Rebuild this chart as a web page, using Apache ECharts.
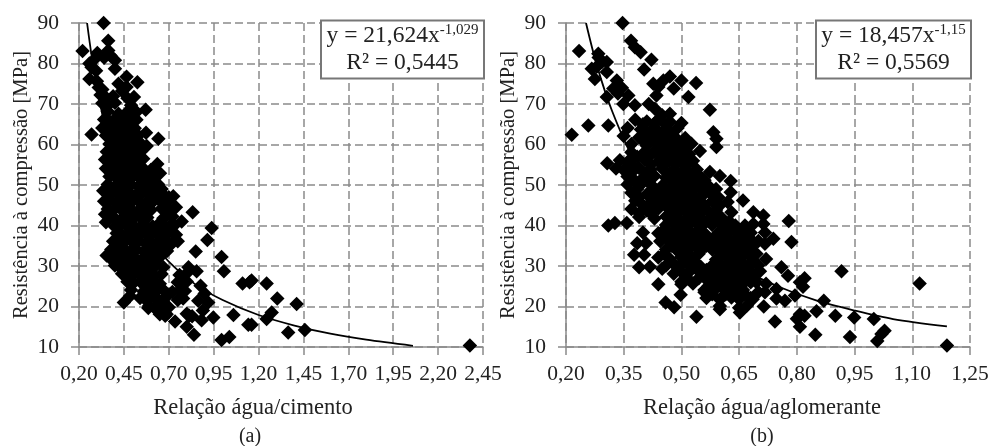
<!DOCTYPE html>
<html>
<head>
<meta charset="utf-8">
<style>html,body{margin:0;background:#fff}#main{width:994px;height:446px}</style>
<script src="https://cdn.jsdelivr.net/npm/echarts@6/dist/echarts.min.js"></script>
</head>
<body>
<div id="main"></div>
<script>
// valores
var ticksY = [10, 20, 30, 40, 50, 60, 70, 80, 90];
var ticksA = [0.20, 0.45, 0.70, 0.95, 1.20, 1.45, 1.70, 1.95, 2.20, 2.45];
var ticksB = [0.20, 0.35, 0.50, 0.65, 0.80, 0.95, 1.10, 1.25];

// (a) relação água/cimento x resistência
var pontosA = [
[.337,90],[.363,85.6],[.363,83.2],[.22,83.1],[.302,82.6],[.40,80.8],[.40,78.7],[.258,80],[.27,79.1],[.258,76.2],[.295,78.2],[.30,75.6],[.285,81],[.34,81.4],[.375,82],
[.465,76.7],[.525,75.4],[.42,75],[.465,74.2],[.506,71.7],[.571,68.6],[.52,68],[.27,62.5],[.573,62.9],[.642,61.4],[.577,59.6],[.558,56.5],[.636,55.2],[.651,52.9],[.725,47.2],
[.31,74.1],[.33,73.6],[.44,73.2],[.32,72.2],[.35,71.6],[.39,71.9],[.47,71.4],[.33,70.2],[.36,69.6],[.40,70.3],[.49,69.7],[.36,68.2],[.42,67.6],[.47,68.1],[.50,67.4],
[.34,66.2],[.37,65.7],[.40,66.3],[.43,65.8],[.46,66.4],[.49,65.6],[.52,66.1],[.33,64.1],[.36,63.7],[.39,64.3],[.42,63.8],[.45,64.2],[.48,63.6],[.51,64],
[.35,62.2],[.38,61.6],[.41,62.3],[.44,61.8],[.47,62.1],[.50,61.7],[.53,62.2],[.37,60.1],[.40,59.7],[.43,60.2],[.46,59.8],[.49,60.3],[.52,59.6],[.55,60],
[.355,58.2],[.39,57.7],[.42,58.1],[.45,57.8],[.48,58.3],[.51,57.6],[.54,58],[.345,56.3],[.37,55.8],[.40,56.1],[.44,55.7],[.47,56.2],[.50,55.9],[.53,55.6],
[.35,54.1],[.385,53.7],[.42,54.2],[.46,53.8],[.49,54.1],[.52,53.6],[.56,54],[.60,53.7],[.37,52.1],[.41,51.7],[.44,52.2],[.47,51.8],[.50,52.1],[.54,51.6],[.58,52],[.62,51.8],
[.36,50.1],[.40,49.7],[.43,50.2],[.46,49.8],[.49,50.1],[.53,49.6],[.57,50],[.60,49.8],[.64,50.2],[.35,48.2],[.38,47.7],[.42,48.1],[.45,47.8],[.48,48.2],[.52,47.6],[.55,48],[.59,47.8],[.63,48.1],[.67,47.6],
[.37,46.1],[.41,45.7],[.44,46.2],[.47,45.8],[.50,46.1],[.54,45.6],[.58,46],[.61,45.8],[.65,46.2],[.69,45.7],[.36,44.1],[.39,43.7],[.43,44.2],[.46,43.8],[.49,44.1],[.53,43.6],[.56,44],[.60,43.8],[.66,44.2],[.70,43.7],
[.375,42.1],[.40,41.7],[.45,42.2],[.48,41.8],[.51,42.1],[.55,41.6],[.58,42],[.67,41.8],[.72,42.2],[.35,40.8],[.40,39.7],[.43,40.2],[.47,39.8],[.50,40.1],[.54,39.6],[.57,40],[.61,39.8],[.64,40.2],[.68,39.7],[.71,40.1],
[.41,38.1],[.44,37.7],[.48,38.2],[.52,37.8],[.55,38.1],[.59,37.6],[.63,38],[.66,37.8],[.70,38.2],[.74,37.7],[.39,36.1],[.43,35.7],[.46,36.2],[.50,35.8],[.53,36.1],[.57,35.6],[.60,36],[.64,35.8],[.68,36.2],[.72,35.7],[.75,36.1],
[.38,34.1],[.41,33.7],[.45,34.2],[.49,33.8],[.52,34.1],[.56,33.6],[.59,34],[.62,33.8],[.66,34.2],[.69,33.7],[.37,32.1],[.40,31.7],[.44,32.2],[.47,31.8],[.51,32.1],[.55,31.6],[.58,32],[.61,31.8],[.65,32.2],[.354,32.6],[.428,29.7],
[.40,30.1],[.46,29.8],[.50,30.1],[.53,29.6],[.57,30],[.60,29.8],[.63,30.2],[.67,29.7],[.44,28.1],[.48,27.7],[.51,28.2],[.55,27.8],[.58,28.1],[.62,27.6],[.66,28],[.76,27.8],[.80,28.2],
[.47,26.1],[.50,25.7],[.54,26.2],[.57,25.8],[.61,26.1],[.65,25.6],[.75,26],[.78,25.8],[.80,26.2],[.49,24.1],[.56,23.7],[.59,24.2],[.63,23.8],[.67,24.1],[.72,23.6],[.76,24],[.79,23.8],
[.54,22.1],[.57,21.7],[.60,22.2],[.64,21.8],[.68,22.1],[.75,21.6],[.78,22],[.59,20.1],[.62,19.7],[.66,20.2],[.70,19.8],[.65,18.1],[.68,17.7],[.80,18.2],[.83,17.6],
[.335,48.6],[.34,46],[.345,42.8],[.62,53.5],[.66,49],[.70,47],[.74,44.5],[.73,40],
[.833,43.3],[.772,41],[.939,39.4],[.915,36.4],[.85,33.6],[.994,32.2],[1.007,28.7],[1.111,25.7],[1.15,26],[.81,29.7],[.855,28.7],[.877,25.1],[.45,21],[.484,22.6],[.586,19.6],[.688,18.1],[.735,16.3],[.80,15],[.84,13],[.814,17.7],[.864,21.4],[.92,21],[.948,17.3],[.883,16.6],[1.06,17.9],[.994,11.7],[1.037,12.5],[1.143,15.5],[.90,23.2],[.89,19],
[1.161,26.4],[1.245,25.7],[1.304,22],[1.412,20.6],[1.273,18.5],[1.245,16.9],[1.161,15.5],[1.365,13.6],[1.458,14.2],[2.377,10.4]
];

// (b) relação água/aglomerante x resistência
var pontosB = [
[.347,90],[.369,85.6],[.379,84],[.394,82.8],[.422,80.9],[.403,78.5],[.234,83.1],[.284,82.4],[.293,80.4],[.306,80.4],[.267,78.7],[.306,77.9],[.275,76.2],[.285,81.5],[.28,79.2],[.332,75.8],[.47,76.8],[.5,75.8],[.538,75.2],[.427,75],[.453,75.8],[.48,73.8],[.435,72.1],[.518,71.7],[.306,71.7],[.323,73.8],[.362,72.1],[.349,70],[.379,69.7],[.574,68.6],[.431,68.8],[.47,67.6],[.5,65.3],[.258,64.7],[.31,64.7],[.215,62.4],[.583,63],[.591,61.4],[.591,59.4],[.548,58.4],[.526,60.2],[.307,55.4],[.574,53.2],[.6,52.2],[.628,51],[.628,48.2],[.596,47],[.335,72.6],[.345,74],[.45,67.2],[.44,74.2],[.415,70],
[.38,66.1],[.41,65.7],[.44,66.2],[.47,65.6],[.36,64.1],[.395,63.7],[.43,64.2],[.46,63.8],[.49,64.1],[.35,62.1],[.39,61.7],[.42,62.2],[.45,61.8],[.48,62.1],[.51,61.6],[.37,60.1],[.41,59.7],[.44,60.2],[.47,59.8],[.50,60.1],[.37,58.1],[.40,57.7],[.43,58.2],[.46,57.8],[.49,58.1],[.52,57.6],
[.34,56.1],[.36,55.7],[.405,56.2],[.44,55.8],[.47,56.1],[.50,55.6],[.53,56],[.33,54.1],[.35,53.7],[.39,54.2],[.42,53.8],[.45,54.1],[.48,53.6],[.51,54],[.54,53.8],[.36,52.1],[.40,51.7],[.43,52.2],[.46,51.8],[.49,52.1],[.52,51.6],[.55,52],[.36,50.1],[.39,49.7],[.42,50.2],[.45,49.8],[.48,50.1],[.51,49.6],[.54,50],[.57,49.8],
[.37,48.1],[.41,47.7],[.44,48.2],[.47,47.8],[.50,48.1],[.53,47.6],[.56,48],[.38,46.1],[.42,45.7],[.45,46.2],[.48,45.8],[.51,46.1],[.54,45.6],[.58,46],[.62,45.8],[.66,46.2],[.37,44.1],[.41,43.7],[.44,44.2],[.47,43.8],[.50,44.1],[.53,43.6],[.56,44],[.59,43.8],[.39,42.1],[.43,41.7],[.46,42.2],[.49,41.8],[.52,42.1],[.55,41.6],[.58,42],
[.46,40.1],[.49,39.7],[.52,40.2],[.55,39.8],[.58,40.1],[.61,39.6],[.64,40],[.44,38.1],[.47,37.7],[.50,38.2],[.53,37.8],[.56,38.1],[.59,37.6],[.62,38],[.65,37.8],[.68,38.2],[.445,36.1],[.48,35.7],[.51,36.2],[.54,35.8],[.57,36.1],[.60,35.6],[.63,36],[.66,35.8],[.70,36.2],
[.46,34.1],[.49,33.7],[.52,34.2],[.55,33.8],[.58,34.1],[.61,33.6],[.64,34],[.67,33.8],[.44,32.1],[.47,31.7],[.50,32.2],[.53,31.8],[.59,31.6],[.62,32],[.65,31.8],[.68,32.2],[.72,31.7],[.46,30.1],[.49,29.7],[.52,30.2],[.55,29.8],[.58,30.1],[.61,29.6],[.64,30],[.67,29.8],[.70,30.2],
[.48,28.1],[.51,27.7],[.55,28.2],[.57,27.8],[.60,28.1],[.63,27.6],[.66,28],[.69,27.8],[.50,26.1],[.53,25.7],[.57,26.2],[.60,25.8],[.63,26.1],[.66,25.6],[.68,26],[.56,24.1],[.58,23.7],[.61,24.2],[.64,23.8],[.66,24.1],[.70,23.6],[.565,22.1],[.60,21.7],[.63,22.2],[.65,21.8],[.68,22.1],[.60,20.1],[.65,19.7],[.67,20.2],
[.40,65],[.43,65.2],[.46,64.9],[.41,62.9],[.44,63.1],[.47,63],[.40,61],[.43,61],[.46,60.9],[.49,61],[.45,59.1],[.48,59],[.51,59],[.385,57],[.415,57],[.45,57.1],[.48,56.9],[.51,57],[.37,55],[.42,55],[.455,55],[.485,55.1],[.515,55],[.37,53],[.41,53],[.47,53],[.50,53],[.53,53],[.38,51],[.415,51],[.475,51],[.505,51],[.535,51],[.56,51.2],[.385,49],[.43,49],[.46,49],[.49,49],[.52,49],[.55,49],[.59,49],[.39,47],[.43,47],[.46,47],[.49,47],[.52,47],[.55,47],[.58,47.5],[.40,45],[.43,45],[.465,45],[.495,45],[.525,45],[.56,45],[.60,45],[.39,43],[.42,43],[.485,43],[.515,43],[.545,43],[.575,43],
[.47,41],[.505,41],[.535,41],[.565,41],[.595,41],[.625,41],[.455,39],[.485,39],[.515,39],[.545,39],[.605,39],[.635,39],[.665,39],[.46,37],[.495,37],[.525,37],[.555,37],[.585,37],[.615,37],[.645,37],[.675,37],[.475,35],[.505,35],[.535,35],[.565,35],[.595,35],[.625,35],[.655,35],[.685,35],[.455,33],[.515,33],[.545,33],[.605,33],[.635,33],[.665,33],[.695,33],[.475,31],[.505,31],[.535,31],[.595,31],[.625,31],[.655,31],[.685,31],[.495,29],[.525,29],[.565,29],[.585,29],[.615,29],[.645,29],[.675,29],[.515,27],[.545,27],[.585,27],[.615,27],[.645,27],[.67,27],[.57,25],[.595,25],[.625,25],[.65,25],[.58,23],[.615,23],[.64,23],[.665,23],
[.31,40],[.327,40.6],[.358,40.6],[.40,38.3],[.385,35.6],[.408,35.6],[.377,32.8],[.403,32.8],[.39,29.7],[.418,29.8],[.45,29.3],[.44,25.5],[.459,21],[.481,19.8],[.539,17.5],[.498,22.9],[.5,25.5],[.6,19.3],[.652,18.5],[.56,23.5],[.63,43.3],[.604,42],[.665,40],
[.779,41.1],[.786,35.9],[.713,42.5],[.687,43.3],[.713,40.4],[.687,40.4],[.739,36.7],[.717,38.3],[.717,35.5],[.687,35.9],[.76,29.7],[.704,28.7],[.777,27.6],[.82,27],[.808,26],[.816,24.9],[.916,28.7],[1.119,25.7],[.695,26],[.72,25.6],[.747,24.3],[.717,23.5],[.747,22],[.769,21.4],[.685,21.8],[.714,20],[.795,22.7],[.87,21.4],[.743,16.3],[.808,18.1],[.82,17.7],[.80,17],[.808,15],[.851,18.8],[.848,13],[.9,17.7],[.938,12.5],[.949,17.3],[1,16.9],[1.009,11.5],[1.028,14],[1.02,13.2],[1.19,10.4]
];

// linhas de tendência (pontos lidos sobre a curva)
var curvaA = [[.245,90],[.27,82],[.30,74.2],[.35,63.3],[.40,55.2],[.50,43.9],[.60,36.4],[.70,31.1],[.85,25.4],[1.0,21.6],[1.2,17.9],[1.4,15.3],[1.6,13.3],[1.8,11.8],[2.06,10.3]];
var curvaB = [[.252,90],[.28,79.6],[.32,68.2],[.38,55.5],[.45,45.6],[.55,36.1],[.65,29.6],[.75,25],[.85,21.5],[.95,19],[1.05,16.9],[1.19,15.1]];

var legendaA = ['y = 21,624x', '-1,029', 'R² = 0,5445'];
var legendaB = ['y = 18,457x', '-1,15', 'R² = 0,5569'];
var nomeY = 'Resistência à compressão [MPa]';

var fonte = '"Liberation Serif", "Times New Roman", serif';
var cinza = '#8a8a8a';
var corTexto = '#222';

function fmt(v) {
    return v.toFixed(2).replace('.', ',');
}

function eixoX(ticks, nome, recuo) {
    return {
        type: 'value', gridIndex: ticks === ticksA ? 0 : 1,
        min: ticks[0], max: ticks[ticks.length - 1],
        name: nome, nameLocation: 'middle', nameGap: 50, nameMoveOverlap: false,
        nameTextStyle: { fontFamily: fonte, fontSize: 22.5, color: corTexto, padding: [0, recuo, 0, 0] },
        axisLine: { onZero: false, lineStyle: { color: cinza, width: 1.5 } },
        axisTick: { show: true, length: 8, customValues: ticks, lineStyle: { color: cinza, width: 1.5 } },
        axisLabel: { customValues: ticks, formatter: fmt, fontFamily: fonte, fontSize: 21.5, color: corTexto, margin: 16, hideOverlap: false, showMinLabel: true, showMaxLabel: true },
        splitLine: { show: true, lineStyle: { color: cinza, type: [8, 4], width: 1.5 } }
    };
}

function eixoY(i) {
    return {
        type: 'value', gridIndex: i,
        min: ticksY[0], max: ticksY[ticksY.length - 1], interval: 10,
        name: nomeY, nameLocation: 'middle', nameGap: 47, nameRotate: 90, nameMoveOverlap: false,
        nameTextStyle: { fontFamily: fonte, fontSize: 20.6, color: corTexto },
        axisLine: { show: true, onZero: false, lineStyle: { color: cinza, width: 1.5 } },
        axisTick: { show: true, length: 8, lineStyle: { color: cinza, width: 1.5 } },
        axisLabel: { fontFamily: fonte, fontSize: 21.5, color: corTexto, margin: 20 },
        splitLine: { show: true, lineStyle: { color: cinza, type: [8, 4], width: 1.5 } }
    };
}

function serieScatter(dados, i) {
    return {
        type: 'scatter', xAxisIndex: i, yAxisIndex: i, data: dados,
        symbol: 'diamond', symbolSize: 14.5,
        itemStyle: { color: '#000', opacity: 1 }, silent: true, z: 2
    };
}

function serieCurva(dados, i) {
    return {
        type: 'line', xAxisIndex: i, yAxisIndex: i, data: dados,
        smooth: 0.3, showSymbol: false, clip: false,
        lineStyle: { color: '#000', width: 1.8 }, silent: true, z: 3
    };
}

// caixa da equação
function caixa(x, largura, leg) {
    return [
        { type: 'rect', z: 10, shape: { x: x, y: 20.5, width: largura, height: 58 },
          style: { fill: '#fff', stroke: '#777', lineWidth: 2 } },
        { type: 'text', z: 11, x: x + largura / 2, y: 36, style: {
            text: '{b|' + leg[0] + '}{s|' + leg[1] + '}', align: 'center', verticalAlign: 'middle',
            rich: {
                b: { fontFamily: fonte, fontSize: 23.5, fill: corTexto, lineHeight: 26 },
                s: { fontFamily: fonte, fontSize: 15, fill: corTexto, verticalAlign: 'top', lineHeight: 18 }
            } } },
        { type: 'text', z: 11, x: x + largura / 2, y: 63, style: {
            text: leg[2], align: 'center', verticalAlign: 'middle',
            fontFamily: fonte, fontSize: 23.5, fill: corTexto } }
    ];
}

function rotulo(texto, x) {
    return { type: 'text', x: x, y: 437, style: { text: texto, align: 'center', verticalAlign: 'middle', fontFamily: fonte, fontSize: 20, fill: corTexto } };
}

var myChart = echarts.init(document.getElementById('main'), null, { renderer: 'canvas' });
myChart.setOption({
    animation: false,
    backgroundColor: '#fff',
    grid: [
        { left: 79, top: 23, width: 404, height: 324 },
        { left: 566, top: 23, width: 404, height: 324 }
    ],
    xAxis: [eixoX(ticksA, 'Relação água/cimento', 56), eixoX(ticksB, 'Relação água/aglomerante', 12)],
    yAxis: [eixoY(0), eixoY(1)],
    series: [serieScatter(pontosA, 0), serieCurva(curvaA, 0), serieScatter(pontosB, 1), serieCurva(curvaB, 1)],
    graphic: caixa(321, 163, legendaA).concat(caixa(816, 155, legendaB), [rotulo('(a)', 250), rotulo('(b)', 762)])
});
</script>
</body>
</html>
